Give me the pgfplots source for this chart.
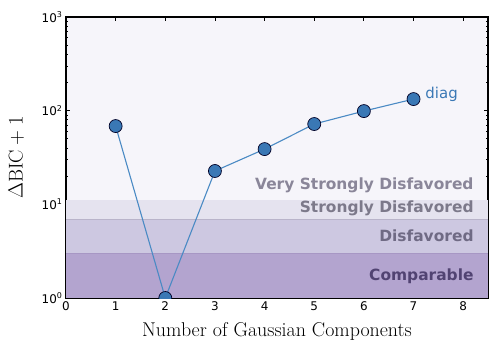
\documentclass[border=0pt]{standalone}
\usepackage{fontspec}
\usepackage{pgfplots}
\pgfplotsset{compat=1.18}
\newfontfamily\dejavu{DejaVu Sans}
\definecolor{bgtop}{HTML}{F6F5FA}
\definecolor{bstrong}{HTML}{E5E3EF}
\definecolor{bdisf}{HTML}{CDC8E1}
\definecolor{bcomp}{HTML}{B3A4CF}
\definecolor{edgeline}{HTML}{A797C4}
\definecolor{ptfill}{HTML}{3A78B5}
\definecolor{ptline}{HTML}{4A8AC4}
\definecolor{lblgray}{HTML}{8A8699}
\definecolor{lbldis}{HTML}{6F6A84}
\definecolor{lblcomp}{HTML}{514372}
\begin{document}
\begin{tikzpicture}
\begin{axis}[name=ax,
  scale only axis, width=422bp, height=281bp,
  ymode=log, ymin=1, ymax=1000, xmin=0, xmax=8.5,
  xtick={0,1,...,8},
  ytick={1,10,100,1000},
  yticklabels={10\textsuperscript{0},10\textsuperscript{1},10\textsuperscript{2},10\textsuperscript{3}},
  /pgf/number format/assume math mode=true,
  ticklabel style={font=\dejavu\fontsize{12}{14}\selectfont},
  major tick length=4bp, minor tick length=2bp,
  tick style={black, line width=0.8bp},
  axis line style={line width=1.5bp},
  axis background/.style={fill=bgtop},
  xlabel={Number of Gaussian Components},
  ylabel={$\Delta\mathrm{BIC}+1$},
  label style={font=\fontsize{20}{24}\selectfont},
  xlabel style={yshift=-5bp},
  ylabel style={yshift=11bp},
  clip marker paths=true,
]
\addplot[draw=none, fill=bstrong, forget plot] coordinates {(0,7) (8.5,7) (8.5,11) (0,11)} -- cycle;
\addplot[draw=none, fill=bdisf, forget plot] coordinates {(0,3) (8.5,3) (8.5,7) (0,7)} -- cycle;
\addplot[draw=none, fill=bcomp, forget plot] coordinates {(0,1) (8.5,1) (8.5,3) (0,3)} -- cycle;
\addplot[edgeline, line width=0.6bp, forget plot] coordinates {(0,3) (8.5,3)};
\addplot[bdisf!90!black, line width=0.4bp, forget plot] coordinates {(0,7) (8.5,7)};

\addplot[ptline, line width=1.1bp, mark=*, mark size=6.5bp,
  mark options={fill=ptfill, draw=black!85!blue, line width=0.7bp}]
  coordinates {(1,68.5) (2,1) (3,22.7) (4,38.9) (5,72) (6,99) (7,133)};

\node[anchor=west, text=ptfill, font=\dejavu\fontsize{15}{18}\selectfont] at (axis cs:7.17,150) {diag};
\begin{scope}[font=\dejavu\bfseries\fontsize{15.5}{18}\selectfont]
\node[anchor=east, text=lblgray] at (axis cs:8.28,16.1) {Very Strongly Disfavored};
\node[anchor=east, text=lblgray!90!black] at (axis cs:8.28,9.1) {Strongly Disfavored};
\node[anchor=east, text=lbldis] at (axis cs:8.28,4.59) {Disfavored};
\node[anchor=east, text=lblcomp] at (axis cs:8.28,1.72) {Comparable};
\end{scope}
\end{axis}
\path ([xshift=-66bp,yshift=-54bp]ax.south west) rectangle ([xshift=10bp,yshift=17bp]ax.north east);
\end{tikzpicture}
\end{document}
